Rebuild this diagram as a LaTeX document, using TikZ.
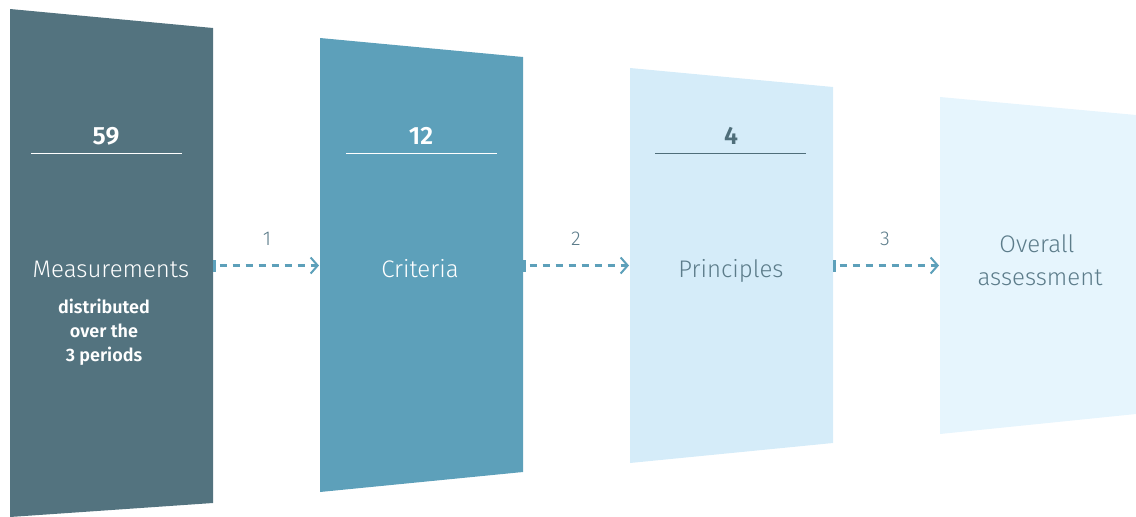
\documentclass[tikz,border=0pt]{standalone}
\usepackage{fontspec}
\setmainfont{Fira Sans}[UprightFont=* Light, BoldFont=* SemiBold]
\usetikzlibrary{arrows.meta}
\definecolor{cA}{HTML}{53737F}
\definecolor{cB}{HTML}{5DA0BA}
\definecolor{cC}{HTML}{D5ECF9}
\definecolor{cD}{HTML}{E6F5FD}
\definecolor{txt}{HTML}{5C7C8A}
\definecolor{dk}{HTML}{4F6E7A}
\tikzset{
  lbl/.style={font=\fontsize{24}{28}\selectfont, anchor=base, inner sep=0pt},
  num/.style={font=\fontsize{25}{28}\selectfont\bfseries, anchor=base, inner sep=0pt},
  sub/.style={font=\fontsize{18}{24}\selectfont\bfseries, anchor=base, inner sep=0pt, align=center, white},
  stepnum/.style={font=\fontsize{20}{22}\selectfont, anchor=base, inner sep=0pt, txt},
  flow/.style={cB, line width=2.2pt, dash pattern=on 7pt off 6pt, -{Straight Barb[length=7pt,width=16pt,line width=2pt]}},
  tick/.style={cB, line width=3pt},
}
\begin{document}
\begin{tikzpicture}[x=1pt,y=-1pt]
\useasboundingbox (0,0) rectangle (1136,517);
% panels
\fill[cA] (10,9) -- (213,28) -- (213,503) -- (10,517) -- cycle;
\fill[cB] (320,38) -- (523,57) -- (523,472) -- (320,492) -- cycle;
\fill[cC] (630,68) -- (833,87) -- (833,443) -- (630,463) -- cycle;
\fill[cD] (940,97) -- (1136,115) -- (1136,414) -- (940,434) -- cycle;
% counts
\node[num, white] (n1) at (106,144) {59};
\draw[white, line width=1pt] (31,153) -- (182,153);
\node[num, white] (n2) at (421,144) {12};
\draw[white, line width=1pt] (346,153) -- (497,153);
\node[num, dk] (n3) at (731,144) {4};
\draw[dk, line width=1pt] (655,153) -- (806,153);
% titles
\node[lbl, white] (t1) at (111,277) {Measurements};
\node[sub] (t1s) at (104,361) {distributed\\over the\\3 periods};
\node[lbl, white] (t2) at (420,277) {Criteria};
\node[lbl, txt] (t3) at (731,277) {Principles};
\node[lbl, txt] (t4a) at (1037,252) {Overall};
\node[lbl, txt] (t4b) at (1040,285) {assessment};
% connector anchors
\coordinate (p1r) at (214.5,265.5);
\coordinate (p2l) at (319,265.5);
\coordinate (p2r) at (524.5,265.5);
\coordinate (p3l) at (629,265.5);
\coordinate (p3r) at (834.5,265.5);
\coordinate (p4l) at (939,265.5);
\draw[tick] ([yshift=-6pt]p1r) -- ([yshift=6pt]p1r);
\draw[tick] ([yshift=-6pt]p2r) -- ([yshift=6pt]p2r);
\draw[tick] ([yshift=-6pt]p3r) -- ([yshift=6pt]p3r);
\draw[flow] ([xshift=5pt]p1r) -- (p2l);
\draw[flow] ([xshift=5pt]p2r) -- (p3l);
\draw[flow] ([xshift=5pt]p3r) -- (p4l);
\node[stepnum] (s1) at (267,245) {1};
\node[stepnum] (s2) at (576,245) {2};
\node[stepnum] (s3) at (885,245) {3};
\end{tikzpicture}
\end{document}
